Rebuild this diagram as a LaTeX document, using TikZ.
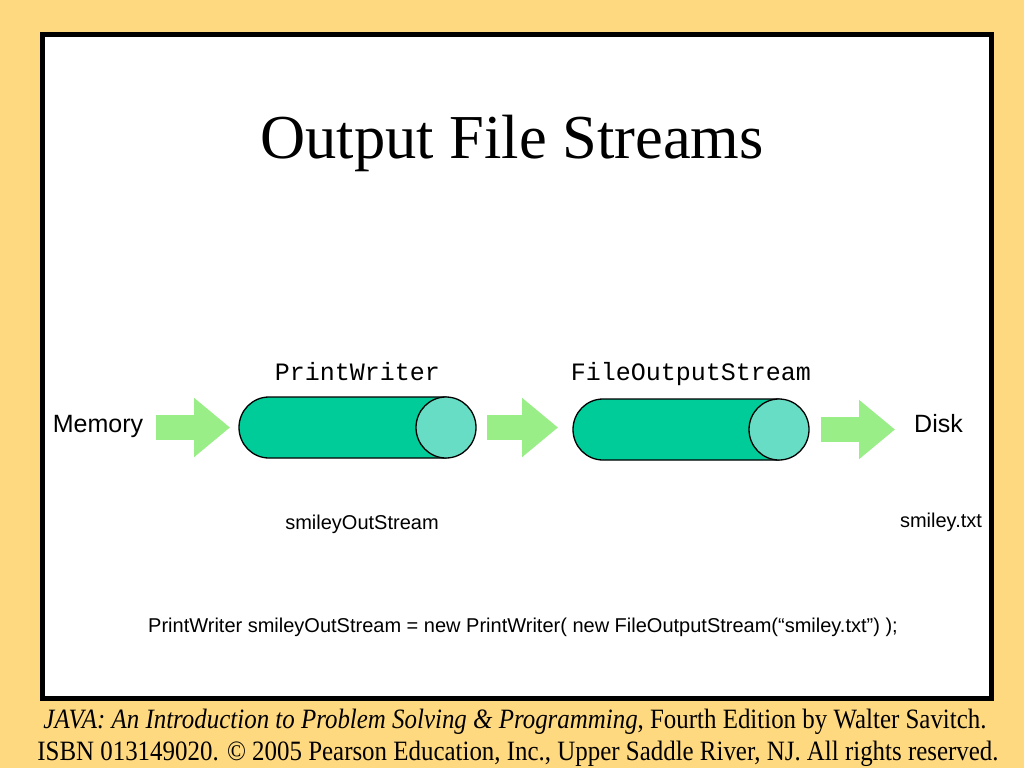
\documentclass[tikz,border=0pt]{standalone}
\usepackage{fontspec}
\setmainfont{Liberation Serif}
\setsansfont{Liberation Sans}
\setmonofont{Liberation Mono}
\newfontfamily\footfont[FakeStretch=0.89]{Liberation Serif}
\usetikzlibrary{arrows.meta,positioning}
\definecolor{slideyellow}{RGB}{255,217,128}
\definecolor{streambody}{RGB}{0,204,153}
\definecolor{streamend}{RGB}{102,221,196}
\definecolor{flowgreen}{RGB}{153,238,136}
\tikzset{
  streambox/.style={inner sep=0pt, outer sep=0pt,
    minimum width=237pt, minimum height=61pt},
  monolabel/.style={font=\ttfamily\fontsize{25}{30}\selectfont, inner sep=0pt},
  biglabel/.style={font=\sffamily\fontsize{25}{30}\selectfont, inner sep=0pt},
  smalllabel/.style={font=\sffamily\fontsize{20}{24}\selectfont, inner sep=0pt},
  footline/.style={font=\footfont\fontsize{28}{34}\selectfont, inner sep=0pt, anchor=base},
  flow/.style={flowgreen, line width=25pt, yshift=2pt,
    -{Triangle[length=36pt,width=57pt]}}
}
\begin{document}
\begin{tikzpicture}[x=1pt,y=-1pt]
% fondo y marco
\fill[slideyellow] (0,0) rectangle (1024,768);
\useasboundingbox (0,0) rectangle (1024,768);
\draw[line width=5pt, fill=white] (42.5,34.5) rectangle (991.5,698.5);

% titulo
\node[font=\fontsize{62.5}{75}\selectfont, inner sep=0pt, anchor=base] (title) at (512,158) {Output File Streams};

% los dos flujos
\node[streambox] (pw) at (357.5,427.5) {};
\node[streambox, minimum width=236pt] (fos) at (691,429.5) {};
\foreach \s in {pw,fos} {
  \filldraw[fill=streambody, line width=1.3pt]
    ([xshift=-30pt]\s.north east) -- ([xshift=30pt]\s.north west)
    arc[start angle=270, end angle=90, x radius=30, y radius=30.5]
    -- ([xshift=-30pt]\s.south east) -- cycle;
  \filldraw[fill=streamend, line width=1.3pt]
    ([xshift=-30pt]\s.east) ellipse[x radius=30, y radius=30.5];
}
\node[monolabel, above=17pt of pw, anchor=base] (pwname) {PrintWriter};
\node[monolabel, above=19pt of fos, anchor=base] (fosname) {FileOutputStream};

% extremos
\node[biglabel, anchor=base] (mem) at (98,432) {Memory};
\node[biglabel, anchor=base] (disk) at (938.5,432) {Disk};

% flechas gruesas
\draw[flow, shorten <=13pt, shorten >=9pt] (pw.west -| mem.east) -- (pw.west);
\draw[flow, shorten <=11pt, shorten >=15pt] (pw.east) -- (pw.east -| fos.west);
\draw[flow, shorten <=12pt, shorten >=19pt] (fos.east) -- (fos.east -| disk.west);

% nombres
\node[smalllabel, anchor=base] (pwvar) at (362,529) {smileyOutStream};
\node[smalllabel, anchor=base] (file) at (941,527) {smiley.txt};
\node[smalllabel, anchor=base] (code) at (523,632)
  {PrintWriter smileyOutStream = new PrintWriter( new FileOutputStream(“smiley.txt”) );};

% pie de pagina
\node[footline] (foot1) at (515,728)
  {\textit{JAVA: An Introduction to Problem Solving \& Programming}, Fourth Edition by Walter Savitch.};
\node[footline] (foot2) at (518,760)
  {ISBN 013149020. © 2005 Pearson Education, Inc., Upper Saddle River, NJ. All rights reserved.};
\end{tikzpicture}
\end{document}
